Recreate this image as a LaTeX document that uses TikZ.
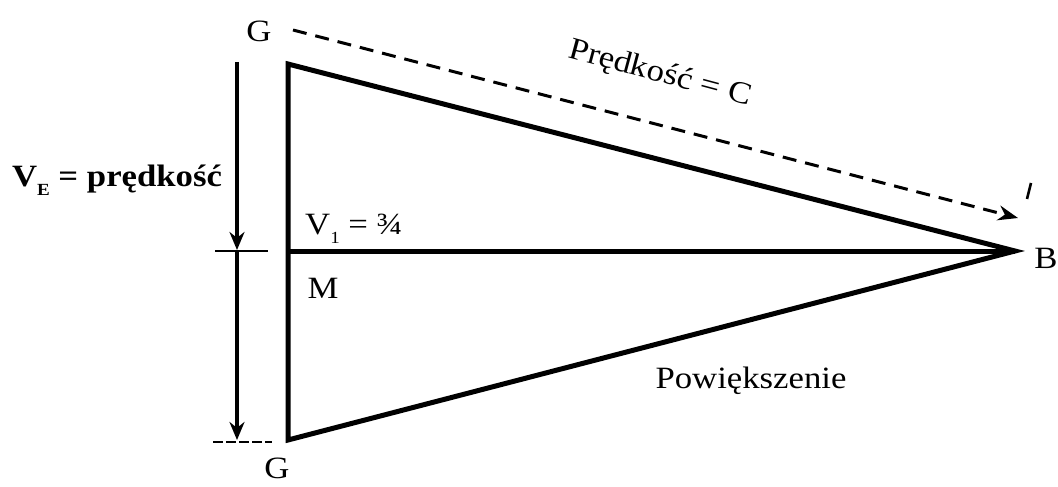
\documentclass[tikz,border=0pt]{standalone}
\usepackage{fontspec}
\setmainfont{Liberation Serif}
\usetikzlibrary{arrows.meta}
\newcommand{\widetxt}[1]{\scalebox{1.12}[1]{#1}}
\newcommand{\lowsub}[1]{\raisebox{-0.3em}{\fontsize{17}{17}\selectfont #1}}
\begin{document}
\begin{tikzpicture}[x=1pt,y=-1pt,
  tri/.style={line width=5pt, line join=miter, line cap=butt},
  axis/.style={line width=3.2pt},
  tick/.style={line width=1.8pt},
  dashline/.style={line width=3pt, dash pattern=on 14pt off 9pt},
  darrow/.style={-{Stealth[length=18pt,width=15pt]}},
  lbl/.style={inner sep=0pt, font=\fontsize{31}{34}\selectfont},
  blbl/.style={inner sep=0pt, font=\fontsize{31}{34}\selectfont\bfseries}]
\useasboundingbox (0,0) rectangle (1058,487);
% main points
\coordinate (Gt) at (288,64);
\coordinate (Gb) at (288,440);
\coordinate (B) at (1015,251);
\coordinate (M) at (288,251);
% triangle and middle line
\draw[tri] (Gt) -- (B) -- (Gb) -- cycle;
\draw[tri] (M) -- (B);
% left velocity arrow
\coordinate (A0) at (237,62);
\coordinate (A1) at (237,250);
\coordinate (A2) at (237,440);
\draw[axis,darrow] (A0) -- (A1);
\draw[axis,darrow] (A1) -- (A2);
\coordinate (T1a) at (215,251);
\coordinate (T1b) at (268,251);
\draw[tick] (T1a) -- (T1b);
\coordinate (T2a) at (213,442);
\coordinate (T2b) at (272,442);
\draw[tick, dash pattern=on 10pt off 3pt] (T2a) -- (T2b);
% dashed line
\coordinate (D0) at (293,30);
\coordinate (D1) at (1018,218);
\draw[dashline,-{Stealth[length=20pt,width=15pt]}] (D0) -- (D1);
\coordinate (K0) at (1031,183);
\coordinate (K1) at (1027,199);
\draw[line width=2.6pt] (K0) -- (K1);
% labels
\node[lbl] (lGt) at (259,31) {\widetxt{G}};
\node[lbl] (lGb) at (277,468) {\widetxt{G}};
\node[lbl] (lB) at (1046,258) {\widetxt{B}};
\node[lbl] (lM) at (323,288) {\widetxt{M}};
\node[lbl, anchor=west] (lV1) at (305,229) {\widetxt{V\lowsub{1} = ¾}};
\node[blbl] (lVE) at (117,180) {\widetxt{V\lowsub{E} = prędkość}};
\node[lbl, rotate=-15] (lC) at (660,74) {\widetxt{Prędkość = C}};
\node[lbl] (lP) at (751,381) {\widetxt{Powiększenie}};
\end{tikzpicture}
\end{document}
